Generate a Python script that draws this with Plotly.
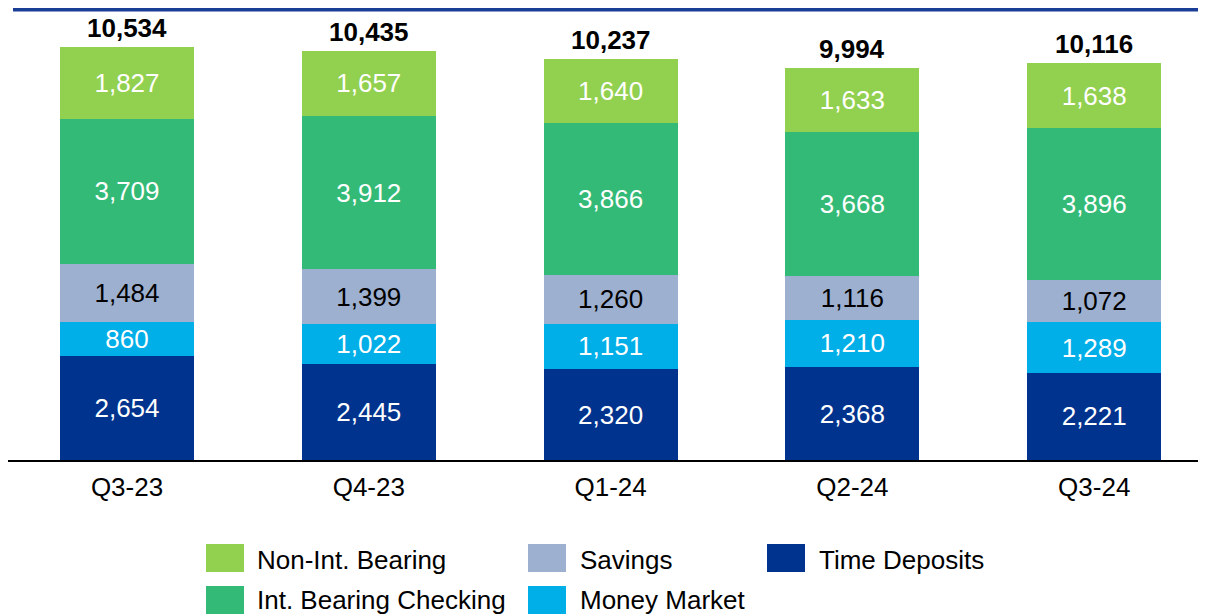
import plotly.graph_objects as go

categories = ["Q3-23", "Q4-23", "Q1-24", "Q2-24", "Q3-24"]
time_deposits = [2654, 2445, 2320, 2368, 2221]
money_market = [860, 1022, 1151, 1210, 1289]
savings = [1484, 1399, 1260, 1116, 1072]
int_bearing = [3709, 3912, 3866, 3668, 3896]
non_int = [1827, 1657, 1640, 1633, 1638]
totals = [10534, 10435, 10237, 9994, 10116]

series = [
    ("Time Deposits", time_deposits, "#00338E", "white"),
    ("Money Market", money_market, "#00AEE8", "white"),
    ("Savings", savings, "#9DB0CF", "black"),
    ("Int. Bearing Checking", int_bearing, "#33BA77", "white"),
    ("Non-Int. Bearing", non_int, "#92D050", "white"),
]

FONT = "Liberation Sans, Arial, sans-serif"
OFF = 8  # page offset of the figure inside the html body
W, H = 1206 - OFF, 615 - OFF
ML, MT, MB = 0, 2, 155
PW, PH = W - ML, H - MT - MB

def px_x(px):  # page pixel -> paper
    return (px - OFF - ML) / PW

def px_y(py):
    return (H - MB - (py - OFF)) / PH

xs = list(range(len(categories)))
fig = go.Figure()
for name, vals, color, tcolor in series:
    fig.add_trace(go.Bar(
        x=xs, y=vals, name=name, width=0.554,
        marker=dict(color=color, line=dict(width=0)),
        text=[f"{v:,}" for v in vals], textposition="inside",
        insidetextanchor="middle", textangle=0, constraintext="none",
        insidetextfont=dict(family=FONT, size=26, color=tcolor),
        showlegend=False, hoverinfo="skip",
    ))

annotations = []
for i, t in enumerate(totals):
    annotations.append(dict(
        x=i, y=t, xref="x", yref="y", text=f"<b>{t:,}</b>", showarrow=False,
        yanchor="middle", yshift=19, font=dict(family=FONT, size=26, color="black"),
    ))

# manual legend (row-major, 3 columns)
legend_order = ["Non-Int. Bearing", "Savings", "Time Deposits", "Int. Bearing Checking", "Money Market"]
color_of = {s[0]: s[2] for s in series}
col_sq = [206, 528, 767]
col_tx = [255, 578, 817]
row_sq = [544, 586]
row_tx = [560, 600]
shapes = []
for k, name in enumerate(legend_order):
    r, c = divmod(k, 3)
    shapes.append(dict(type="rect", xref="paper", yref="paper",
                       x0=px_x(col_sq[c]), x1=px_x(col_sq[c] + 38),
                       y0=px_y(row_sq[r]), y1=px_y(row_sq[r] + 28),
                       fillcolor=color_of[name], line=dict(width=0)))
    annotations.append(dict(x=px_x(col_tx[c]), y=px_y(row_tx[r]), xref="paper", yref="paper",
                            text=name, showarrow=False, xanchor="left", yanchor="middle",
                            font=dict(family=FONT, size=26, color="black")))

# top rule
shapes.append(dict(type="line", xref="paper", yref="paper",
                   x0=px_x(13), x1=1.0, y0=px_y(9.8), y1=px_y(9.8),
                   line=dict(color="#1A3E96", width=3.5)))

x0 = -(127 - OFF) / 241.8
fig.update_layout(
    width=W, height=H, barmode="stack",
    margin=dict(l=ML, r=0, t=MT, b=MB),
    plot_bgcolor="white", paper_bgcolor="white",
    annotations=annotations, shapes=shapes,
    xaxis=dict(range=[x0, x0 + PW / 241.8], tickvals=xs, ticktext=categories,
               showline=True, linecolor="black", linewidth=2, showgrid=False,
               zeroline=False, ticks="", ticklabelstandoff=3,
               tickfont=dict(family=FONT, size=26, color="black"),
               fixedrange=True),
    yaxis=dict(range=[0, 11478], visible=False, showgrid=False, zeroline=False, fixedrange=True),
    showlegend=False,
)

fig.write_html("out.html")
